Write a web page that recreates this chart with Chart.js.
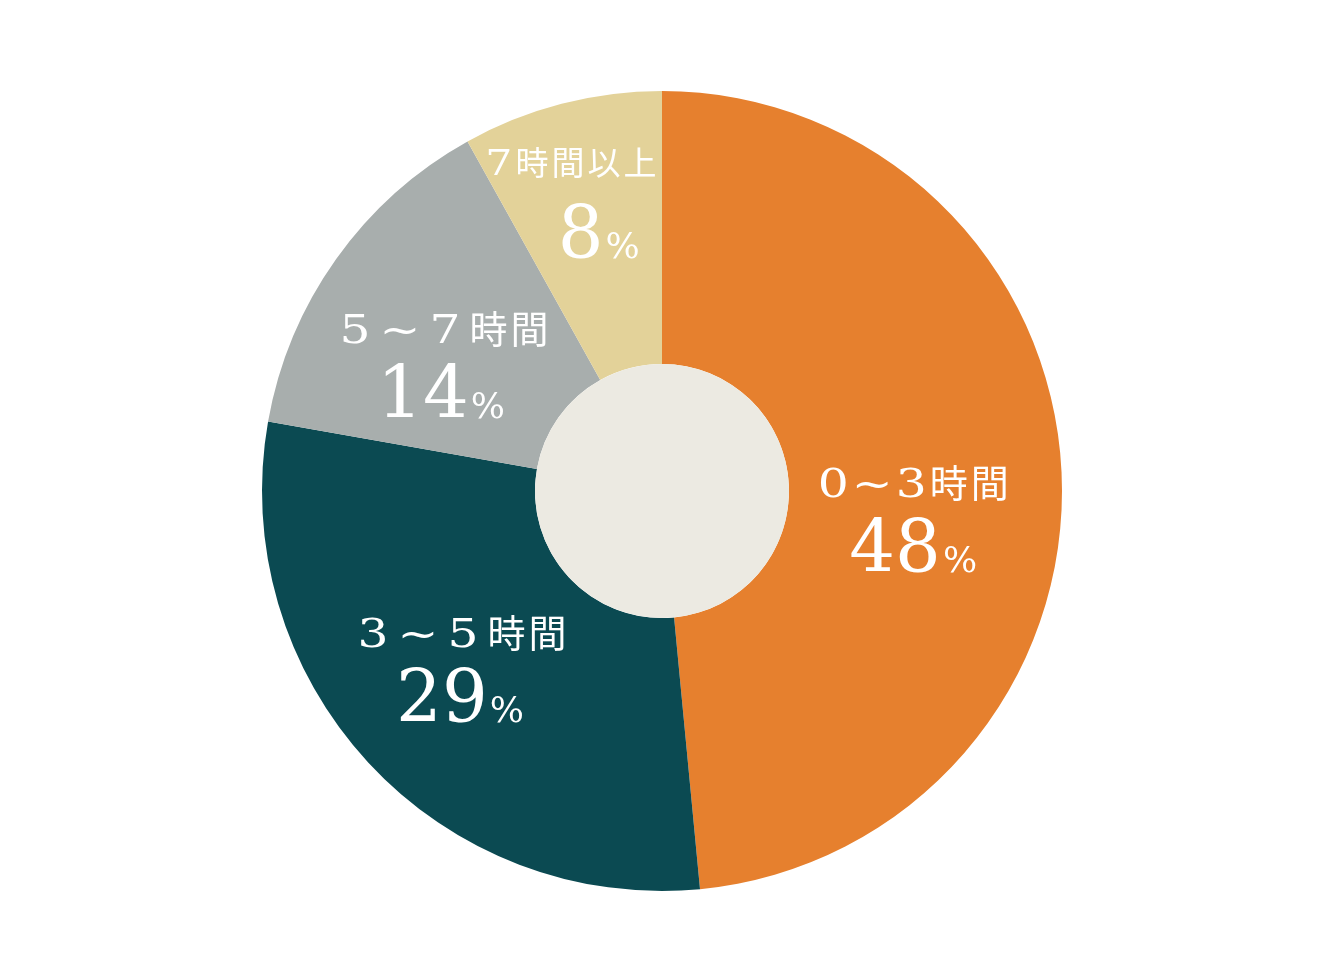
<!DOCTYPE html>
<html lang="ja">
<head>
<meta charset="utf-8">
<title>時間の割合</title>
<script src="https://cdn.jsdelivr.net/npm/chart.js@4"></script>
<style>
    html, body { margin: 0; padding: 0; background: #ffffff; }
    #wrap { width: 1324px; height: 976px; position: relative; }
</style>
</head>
<body>
<div id="wrap"><canvas id="pieChart"></canvas></div>
<script>
// chart data
const categories = ['0~3時間', '3 ~ 5 時間', '5 ~ 7 時間', '7時間以上'];
const shares = [48, 29, 14, 8];
const sliceColors = ['#E6802E', '#0B4A52', '#A8AEAD', '#E3D299'];

// label anchors, as fractions of the outer radius from the centre
const labelSpots = [
    { x: 0.628, y: 0.058, gap: 32, dx2: 0, size: 1 },
    { x: -0.500, y: 0.433, gap: 32, dx2: -2, size: 1 },
    { x: -0.545, y: -0.328, gap: 32, dx2: -3, size: 1 },
    { x: -0.228, y: -0.738, gap: 36, dx2: 28, size: 0.88 }
];

const LATIN_PX = 40;
const CJK_PX = 38;
const LATIN_STRETCH = 1.22;   // the original digits are wide
const LETTER_GAP = 3;
const SPACE_W = 3;

function isLatin(ch) {
    return /[0-9~]/.test(ch);
}

function latinFont(k) { return `${Math.round(LATIN_PX * k)}px "DejaVu Serif"`; }
function cjkFont(k) { return `${Math.round(CJK_PX * k)}px "Noto Sans CJK JP"`; }

function glyphWidth(ctx, ch, k) {
    if (ch === ' ') return SPACE_W;
    if (isLatin(ch)) {
        ctx.font = latinFont(k);
        return ctx.measureText(ch).width * LATIN_STRETCH;
    }
    ctx.font = cjkFont(k);
    return ctx.measureText(ch).width;
}

// digits in a stretched serif, kanji in the CJK face
function drawMixed(ctx, text, cx, baseY, k) {
    const chars = Array.from(text);
    const widths = chars.map(ch => glyphWidth(ctx, ch, k));
    const total = widths.reduce((a, b) => a + b, 0) + LETTER_GAP * (chars.length - 1);
    let x = cx - total / 2;
    ctx.textAlign = 'left';
    ctx.textBaseline = 'alphabetic';
    chars.forEach((ch, n) => {
        if (ch !== ' ') {
            if (isLatin(ch)) {
                ctx.save();
                ctx.font = latinFont(k);
                ctx.translate(x, baseY);
                ctx.scale(LATIN_STRETCH, 1);
                ctx.fillText(ch, 0, 0);
                ctx.restore();
            } else {
                ctx.font = cjkFont(k);
                ctx.fillText(ch, x, baseY);
            }
        }
        x += widths[n] + LETTER_GAP;
    });
}

const centreDisc = {
    id: 'centreDisc',
    afterDatasetsDraw(chart) {
        const arc = chart.getDatasetMeta(0).data[0];
        if (!arc) return;
        const ctx = chart.ctx;
        ctx.save();
        ctx.beginPath();
        ctx.arc(arc.x, arc.y, arc.innerRadius, 0, Math.PI * 2);
        ctx.fillStyle = '#ECEAE2';
        ctx.fill();
        ctx.restore();
    }
};

const sliceLabels = {
    id: 'sliceLabels',
    afterDatasetsDraw(chart) {
        const ctx = chart.ctx;
        const arcs = chart.getDatasetMeta(0).data;
        ctx.save();
        ctx.fillStyle = '#ffffff';
        arcs.forEach((arc, i) => {
            const spot = labelSpots[i];
            const cx = arc.x + spot.x * arc.outerRadius;
            const cy = arc.y + spot.y * arc.outerRadius;

            // first line: category name
            drawMixed(ctx, categories[i], cx, cy - spot.gap + 15, spot.size);

            // second line: big number + small percent sign
            const num = String(shares[i]);
            ctx.font = '72px "DejaVu Serif"';
            const numW = ctx.measureText(num).width;
            ctx.font = '36px "DejaVu Serif"';
            const pctW = ctx.measureText('%').width;
            const gapX = 2;
            const startX = cx + spot.dx2 - (numW + gapX + pctW) / 2;
            const baseY = cy + spot.gap + 26;
            ctx.textAlign = 'left';
            ctx.textBaseline = 'alphabetic';
            ctx.font = '72px "DejaVu Serif"';
            ctx.fillText(num, startX, baseY);
            ctx.font = '36px "DejaVu Serif"';
            ctx.fillText('%', startX + numW + gapX, baseY);
        });
        ctx.restore();
    }
};

new Chart(document.getElementById('pieChart'), {
    type: 'doughnut',
    data: {
        labels: categories,
        datasets: [{
            data: shares,
            backgroundColor: sliceColors,
            borderWidth: 0
        }]
    },
    options: {
        responsive: true,
        maintainAspectRatio: false,
        animation: false,
        cutout: '31.75%',
        layout: {
            padding: { top: 91, bottom: 85, left: 0, right: 0 }
        },
        plugins: {
            legend: { display: false },
            tooltip: { enabled: false }
        }
    },
    plugins: [centreDisc, sliceLabels]
});
</script>
</body>
</html>
